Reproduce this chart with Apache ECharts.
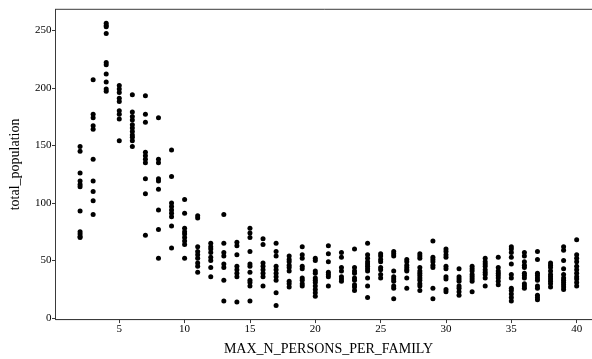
<!DOCTYPE html>
<html>
<head>
<meta charset="utf-8">
<script src="https://cdn.jsdelivr.net/npm/echarts@6/dist/echarts.min.js"></script>
<style>
html,body{margin:0;padding:0;background:#fff;}
#chart{width:592px;height:359px;}
</style>
</head>
<body>
<div id="chart"></div>
<script>
// x values (MAX_N_PERSONS_PER_FAMILY) for each column of points
const maxPersons = [2,3,4,5,6,7,8,9,10,11,12,13,14,15,16,17,18,19,20,21,22,23,24,25,26,27,28,29,30,31,32,33,34,35,36,37,38,39,40];
// total_population values observed at each x value (same order as maxPersons)
const totalPopulation = [
  [149,145,126,119,116,114,93,75,73,71,70],
  [207,177,174,167,164,138,119,110,102,90],
  [256,254,253,247,222,220,212,205,199,197],
  [202,199,196,191,188,180,177,173,154],
  [194,179,175,172,168,165,162,159,157,154,149],
  [193,177,170,144,141,138,135,121,108,72],
  [174,138,135,121,119,112,94,77,52],
  [146,123,100,97,94,91,88,80,61],
  [103,91,78,75,73,70,67,64,52],
  [89,87,62,58,55,52,48,45,40],
  [65,62,60,57,53,50,44,36],
  [90,65,57,54,47,44,33,15],
  [66,63,55,45,42,39,36,14],
  [78,74,70,58,47,45,40,33,31,28,15],
  [69,64,48,45,42,39,36,28],
  [65,58,54,45,42,39,36,33,22,11],
  [54,51,49,46,44,41,32,30,27],
  [62,55,52,45,43,35,33,30,28],
  [52,50,41,39,35,33,31,28,25,22,19],
  [63,56,49,40,38,36,28],
  [57,53,44,41,36,34,32],
  [60,44,41,39,35,33,29,27,24],
  [65,55,52,49,47,45,43,41,35,28,18],
  [56,54,51,49,44,42,38,35],
  [58,56,54,41,36,34,32,28,26,17],
  [51,49,46,44,42,41,35,26],
  [56,54,52,44,41,39,37,35,33,30,28,24],
  [67,53,51,49,46,44,26,17],
  [60,58,55,53,45,43,36,34,25,23],
  [43,36,34,32,28,26,23,20],
  [45,43,41,38,36,34,32,23],
  [52,49,47,45,42,40,38,35,28],
  [53,44,41,39,37,35,32,29],
  [62,60,57,53,47,38,35,26,24,21,18,15],
  [57,54,49,46,44,39,37,35,30,28,26],
  [58,51,39,37,35,33,28,26,20,18,16],
  [48,46,44,41,38,36,34,32,30,27],
  [62,59,50,43,38,35,33,31,29,27,25],
  [68,55,52,49,45,42,39,36,34,31,28]
];
const xTicks = [5,10,15,20,25,30,35,40];
const yTicks = [0,50,100,150,200,250];

const points = [];
maxPersons.forEach((x, i) => {
  totalPopulation[i].forEach(v => points.push([x, v]));
});

const FONT = '"Liberation Serif", "DejaVu Serif", serif';
const AXC = '#3a3a3a';

const chart = echarts.init(document.getElementById('chart'), null, {renderer: 'canvas'});
chart.setOption({
  animation: false,
  backgroundColor: '#ffffff',
  grid: {
    left: 55.5, top: 9.3, right: -9.5, bottom: 39.4,
    containLabel: false,
    outerBoundsMode: 'none',
    show: true,
    borderColor: AXC,
    borderWidth: 1,
    backgroundColor: 'transparent'
  },
  xAxis: {
    type: 'value',
    min: 0.12,
    max: 41.9,
    name: 'MAX_N_PERSONS_PER_FAMILY',
    nameLocation: 'middle',
    nameGap: 23,
    nameTextStyle: {fontFamily: FONT, fontSize: 14, color: '#000'},
    splitLine: {show: false},
    axisLine: {show: true, onZero: false, lineStyle: {color: AXC, width: 1}},
    axisTick: {show: true, length: 3.5, lineStyle: {color: AXC}, customValues: xTicks},
    axisLabel: {fontFamily: FONT, fontSize: 11, color: '#000', margin: 4, customValues: xTicks}
  },
  yAxis: {
    type: 'value',
    min: -1.2,
    max: 268.1,
    name: 'total_population',
    nameLocation: 'middle',
    nameGap: 33,
    nameRotate: 90,
    nameTextStyle: {fontFamily: FONT, fontSize: 14, color: '#000'},
    splitLine: {show: false},
    axisLine: {show: true, onZero: false, lineStyle: {color: AXC, width: 1}},
    axisTick: {show: true, length: 3.5, lineStyle: {color: AXC}, customValues: yTicks},
    axisLabel: {fontFamily: FONT, fontSize: 11, color: '#000', margin: 4, customValues: yTicks}
  },
  series: [{
    type: 'scatter',
    data: points,
    symbol: 'circle',
    symbolSize: 5,
    itemStyle: {color: '#000', opacity: 1},
    clip: true
  }]
});
</script>
</body>
</html>
